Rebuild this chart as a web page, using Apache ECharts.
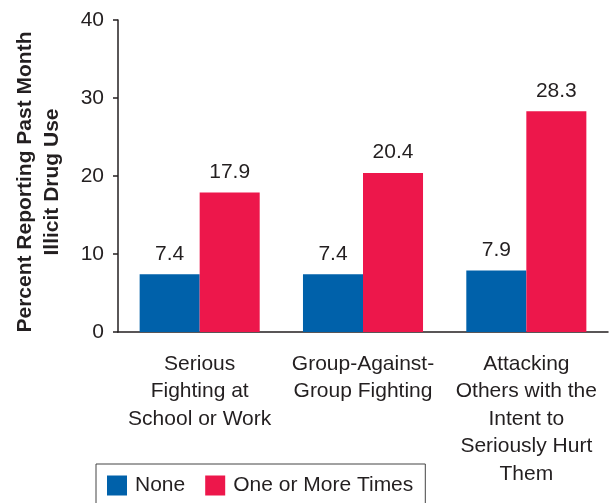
<!DOCTYPE html>
<html>
<head>
<meta charset="utf-8">
<script src="https://cdn.jsdelivr.net/npm/echarts@6/dist/echarts.min.js"></script>
<style>
  html, body { margin: 0; padding: 0; background: #fff; }
  #chart { width: 610px; height: 503px; }
</style>
</head>
<body>
<div id="chart"></div>
<script>
// Behaviour categories
const categories = [
  'Serious\nFighting at\nSchool or Work',
  'Group-Against-\nGroup Fighting',
  'Attacking\nOthers with the\nIntent to\nSeriously Hurt\nThem'
];
const seriesNames = ['None', 'One or More Times'];
const noneValues = [7.4, 7.4, 7.9];
const oneOrMoreValues = [17.9, 20.4, 28.3];
const yTicks = [0, 10, 20, 30, 40];

const FONT = '"Liberation Sans", Arial, Helvetica, sans-serif';
const TEXT = '#231f20';
const FS = 21;

const chart = echarts.init(document.getElementById('chart'), null, { renderer: 'canvas' });

const valueLabel = {
  show: true,
  position: 'top',
  distance: 10,
  color: TEXT,
  fontFamily: FONT,
  fontSize: FS,
  formatter: p => p.value.toFixed(1)
};

chart.setOption({
  animation: false,
  backgroundColor: '#fff',
  textStyle: { fontFamily: FONT, color: TEXT },
  grid: {
    left: 118, right: 2, top: 20, bottom: 171,
    containLabel: false,
    outerBoundsMode: 'none'
  },
  legend: {
    data: seriesNames,
    left: 96,
    top: 464,
    orient: 'horizontal',
    padding: [11, 12, 12, 11],
    borderColor: '#444',
    borderWidth: 1,
    itemWidth: 20,
    itemHeight: 20,
    itemGap: 20,
    icon: 'rect',
    textStyle: { fontFamily: FONT, fontSize: FS, color: TEXT, padding: [0, 0, 0, 3] }
  },
  xAxis: {
    type: 'category',
    data: categories,
    axisLine: { lineStyle: { color: TEXT, width: 1.5 } },
    axisTick: { show: false },
    axisLabel: {
      interval: 0,
      margin: 18,
      fontFamily: FONT,
      fontSize: FS,
      lineHeight: 27.5,
      color: TEXT,
      align: 'center'
    }
  },
  yAxis: {
    type: 'value',
    min: yTicks[0],
    max: yTicks[yTicks.length - 1],
    interval: 10,
    name: 'Percent Reporting Past Month\nIllicit Drug Use',
    nameLocation: 'middle',
    nameRotate: 90,
    nameGap: 52,
    nameTextStyle: {
      fontFamily: FONT,
      fontSize: FS,
      fontWeight: 'bold',
      color: TEXT,
      lineHeight: 27,
      padding: [0, 12, 0, 0]
    },
    axisLine: { show: true, lineStyle: { color: TEXT, width: 1.5 } },
    axisTick: { show: true, length: 5, lineStyle: { color: TEXT, width: 1.5 } },
    splitLine: { show: false },
    axisLabel: {
      margin: 14,
      fontFamily: FONT,
      fontSize: FS,
      color: TEXT
    }
  },
  series: [
    {
      name: seriesNames[0],
      type: 'bar',
      data: noneValues,
      barGap: '0%',
      barCategoryGap: '26.5%',
      itemStyle: { color: '#0061aa' },
      label: valueLabel
    },
    {
      name: seriesNames[1],
      type: 'bar',
      data: oneOrMoreValues,
      barGap: '0%',
      barCategoryGap: '26.5%',
      itemStyle: { color: '#ed174b' },
      label: valueLabel
    }
  ]
});
</script>
</body>
</html>
